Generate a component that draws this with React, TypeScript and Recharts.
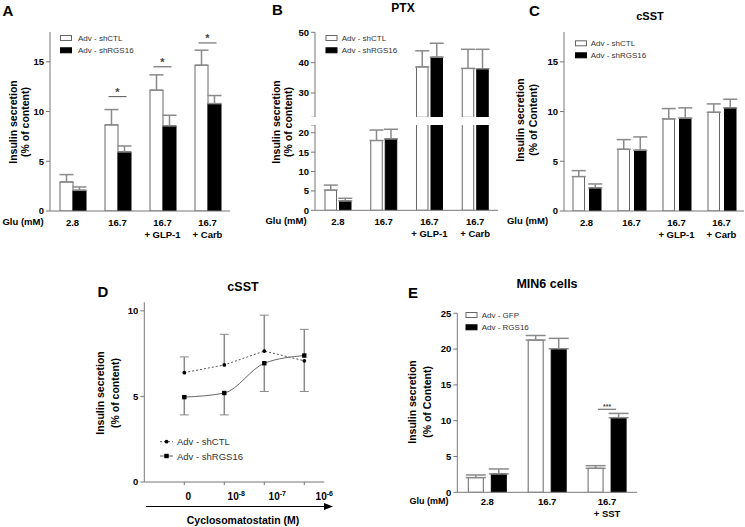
import React from "react";
import {
  BarChart,
  Bar,
  LineChart,
  Line,
  XAxis,
  YAxis,
  ErrorBar,
  ReferenceDot,
  Rectangle,
} from "recharts";

const FONT = "'Liberation Sans', Arial, Helvetica, sans-serif";
const AXIS = "#777";
const ERR = "#8a8a8a";

// glucose conditions used in A, B and C
const conditions = ["2.8", "16.7", "16.7 + GLP-1", "16.7 + Carb"];

// A - islets
const aShCtl = [2.92, 8.66, 12.15, 14.66];
const aShCtlSem = [0.74, 1.54, 1.54, 1.51];
const aShRgs = [2.08, 5.94, 8.56, 10.8];
const aShRgsSem = [0.34, 0.6, 1.07, 0.81];
const aStars = [null, 11.5, 14.5, 16.9];

// B - PTX
const bShCtl = [5.2, 18.0, 38.6, 38.1];
const bShCtlSem = [1.3, 2.7, 5.3, 6.3];
const bShRgs = [2.4, 18.4, 41.8, 38.0];
const bShRgsSem = [0.7, 2.5, 4.6, 6.4];

// C - cSST
const cShCtl = [3.46, 6.21, 9.26, 9.93];
const cShCtlSem = [0.6, 0.97, 1.04, 0.84];
const cShRgs = [2.32, 6.11, 9.33, 10.37];
const cShRgsSem = [0.4, 1.34, 1.04, 0.87];

// D - cyclosomatostatin dose response (0, 1e-8, 1e-7, 1e-6 M)
const doseSteps = [0, 1, 2, 3];
const doseExponents = [null, "-8", "-7", "-6"];
const dShCtl = [6.39, 6.84, 7.65, 7.08];
const dShCtlLow = [0, 0, 0, 1.79];
const dShCtlHigh = [0.92, 1.79, 2.1, 0];
const dShRgs = [4.96, 5.2, 6.94, 7.39];
const dShRgsLow = [1.04, 1.28, 1.65, 0];
const dShRgsHigh = [0, 0, 0, 1.53];

// E - MIN6 cells
const eConditions = ["2.8", "16.7", "16.7 + SST"];
const eGfp = [2.05, 21.26, 3.35];
const eGfpSem = [0.37, 0.64, 0.37];
const eRgs = [2.56, 20.05, 10.42];
const eRgsSem = [0.7, 1.45, 0.6];
const eStars = [null, null, 11.6];

const barRows = (cats: string[], v1: number[], e1: number[], v2: number[], e2: number[]) =>
  cats.map((c, i) => ({ c, v1: v1[i], e1: [0, e1[i]], v2: v2[i], e2: [0, e2[i]] }));

const rowsA = barRows(conditions, aShCtl, aShCtlSem, aShRgs, aShRgsSem);
const rowsB = barRows(conditions, bShCtl, bShCtlSem, bShRgs, bShRgsSem);
const rowsC = barRows(conditions, cShCtl, cShCtlSem, cShRgs, cShRgsSem);
const rowsE = barRows(eConditions, eGfp, eGfpSem, eRgs, eRgsSem);
const rowsD = doseSteps.map((x, i) => ({
  x,
  ctl: dShCtl[i],
  ctlErr: [dShCtlLow[i], dShCtlHigh[i]],
  ctlCap: dShCtl[i] + dShCtlHigh[i] - dShCtlLow[i],
  rgs: dShRgs[i],
  rgsErr: [dShRgsLow[i], dShRgsHigh[i]],
  rgsCap: dShRgs[i] + dShRgsHigh[i] - dShRgsLow[i],
}));

function CondTick(props: any) {
  const { x, y, payload, dy } = props;
  const [first, second] = String(payload.value).split(" + ");
  return (
    <text x={x} y={y} textAnchor="middle" fontSize={9.5} fontWeight="bold" fill="#000">
      <tspan x={x} dy={dy}>{first}</tspan>
      {second && <tspan x={x} dy={12}>+ {second}</tspan>}
    </text>
  );
}

function DoseTick(props: any) {
  const { x, y, payload } = props;
  const i = payload.value as number;
  const shift = [4, 12, 13, 20][i] ?? 0;
  const exp = doseExponents[i];
  return (
    <text x={x + shift} y={y + 15} textAnchor="middle" fontSize={10} fontWeight="bold" fill="#000">
      {exp == null ? "0" : (
        <>
          <tspan>10</tspan>
          <tspan dy={-4} fontSize={7}>{exp}</tspan>
        </>
      )}
    </text>
  );
}

const starShape = (label: string, size: number, lift: number) => (p: any) => (
  <g>
    <line x1={p.cx - 9} x2={p.cx + 9} y1={p.cy} y2={p.cy} stroke="#555" strokeWidth={1} />
    <text x={p.cx} y={p.cy - lift} textAnchor="middle" fontSize={size} fontWeight="bold" fill="#444">
      {label}
    </text>
  </g>
);

// bars lying completely under the visible floor of a broken axis are not drawn
const floorBar = (key: string, floor?: number) => (props: any) => {
  if (floor != null && props.payload && props.payload[key] < floor) return <g />;
  return <Rectangle {...props} />;
};

function BarPanel(p: any) {
  return (
    <BarChart
      width={p.width}
      height={p.height}
      data={p.rows}
      margin={p.margin}
      barSize={p.barSize}
      barGap={p.barGap}
    >
      <XAxis
        dataKey="c"
        hide={p.hideX}
        height={34}
        interval={0}
        axisLine={{ stroke: AXIS }}
        tickLine={false}
        tickSize={0}
        tick={<CondTick dy={p.tickDy} />}
      />
      <YAxis
        type="number"
        width={p.yWidth}
        domain={p.domain}
        ticks={p.ticks}
        allowDataOverflow
        interval={0}
        axisLine={{ stroke: AXIS }}
        tickLine={{ stroke: AXIS }}
        tickSize={4}
        tickMargin={2}
        tickFormatter={p.fmt}
        tick={{ fontSize: 9.5, fontWeight: "bold", fill: "#000" }}
      />
      <Bar dataKey="v1" fill="#fff" stroke="#666" shape={floorBar("v1", p.floor)} isAnimationActive={false}>
        <ErrorBar dataKey="e1" direction="y" width={p.cap} stroke={ERR} />
      </Bar>
      <Bar dataKey="v2" fill="#000" stroke="#000" shape={floorBar("v2", p.floor)} isAnimationActive={false}>
        <ErrorBar dataKey="e2" direction="y" width={p.cap} stroke={ERR} />
      </Bar>
      {p.stars &&
        p.stars.map((s: number | null, i: number) =>
          s == null ? null : (
            <ReferenceDot
              key={i}
              x={p.rows[i].c}
              y={s}
              ifOverflow="visible"
              shape={starShape(p.starLabel, p.starSize, p.starLift)}
            />
          )
        )}
    </BarChart>
  );
}

function YTitle({ x1, x2, y, second }: { x1: number; x2: number; y: number; second: string }) {
  return (
    <g fontSize={10.5} fontWeight="bold" fill="#000">
      <text transform={`translate(${x1},${y}) rotate(-90)`} textAnchor="middle" dominantBaseline="central">
        Insulin secretion
      </text>
      <text transform={`translate(${x2},${y}) rotate(-90)`} textAnchor="middle" dominantBaseline="central">
        {second}
      </text>
    </g>
  );
}

function BoxLegend({ x, y, tx, names, gap, size }: any) {
  return (
    <g>
      {names.map((n: string, i: number) => (
        <g key={n}>
          <rect
            x={x}
            y={y + i * gap - 2.5}
            width={11}
            height={5}
            fill={i === 0 ? "#fff" : "#000"}
            stroke={i === 0 ? "#666" : "#000"}
          />
          <text x={tx} y={y + i * gap} dominantBaseline="central" fontSize={size} fill="#333">
            {n}
          </text>
        </g>
      ))}
    </g>
  );
}

const circleDot = (p: any) => <circle key={`c${p.index}`} cx={p.cx} cy={p.cy} r={1.9} fill="#000" />;
const squareDot = (p: any) => (
  <rect key={`s${p.index}`} x={p.cx - 2.2} y={p.cy - 2.2} width={4.4} height={4.4} fill="#000" />
);
const capDot = (p: any) => (
  <line key={`k${p.index}`} x1={p.cx - 4.5} x2={p.cx + 4.5} y1={p.cy} y2={p.cy} stroke={ERR} />
);

const abs = (left: number, top: number): React.CSSProperties => ({ position: "absolute", left, top });

export default function App() {
  return (
    <div
      style={{
        position: "absolute",
        left: 0,
        top: 0,
        width: 745,
        height: 527,
        background: "#fff",
        fontFamily: FONT,
        overflow: "hidden",
      }}
    >
      <div style={abs(0, 0)}>
        <BarPanel
          rows={rowsA}
          width={240}
          height={245}
          margin={{ top: 32, right: 10, left: 0, bottom: 0 }}
          yWidth={50}
          domain={[0, 18]}
          ticks={[0, 5, 10, 15]}
          barSize={13}
          barGap={0}
          cap={7}
          tickDy={13}
          stars={aStars}
          starLabel="*"
          starSize={11}
          starLift={1}
        />
      </div>

      {/* B: broken axis, upper part 22-50, lower part 0-22 */}
      <div style={abs(240, 0)}>
        <BarPanel
          rows={rowsB}
          width={263}
          height={117.3}
          margin={{ top: 32.3, right: 5, left: 0, bottom: 0 }}
          yWidth={75}
          domain={[22, 50]}
          ticks={[22, 30, 40, 50]}
          fmt={(v: number) => (v === 22 ? "" : String(v))}
          hideX
          floor={22}
          barSize={11.5}
          barGap={3}
          cap={7}
        />
      </div>
      <div style={abs(240, 125)}>
        <BarPanel
          rows={rowsB}
          width={263}
          height={119.3}
          margin={{ top: 0, right: 5, left: 0, bottom: 0 }}
          yWidth={75}
          domain={[0, 22]}
          ticks={[0, 5, 10, 15, 20, 22]}
          fmt={(v: number) => (v === 22 ? "" : String(v))}
          barSize={11.5}
          barGap={3}
          cap={7}
          tickDy={13}
        />
      </div>

      <div style={abs(490, 0)}>
        <BarPanel
          rows={rowsC}
          width={255}
          height={245}
          margin={{ top: 32, right: 1, left: 0, bottom: 0 }}
          yWidth={74}
          domain={[0, 18]}
          ticks={[0, 5, 10, 15]}
          barSize={11.5}
          barGap={5}
          cap={7}
          tickDy={13}
        />
      </div>

      <div style={abs(100, 300)}>
        <LineChart
          width={250}
          height={215}
          data={rowsD}
          margin={{ top: 2.3, right: 25.7, left: 0, bottom: 15 }}
        >
          <XAxis
            type="number"
            dataKey="x"
            domain={[-1, 3.5]}
            ticks={doseSteps}
            interval={0}
            height={18}
            axisLine={{ stroke: AXIS }}
            tickLine={{ stroke: AXIS }}
            tickSize={3}
            tickMargin={0}
            tick={<DoseTick />}
          />
          <YAxis
            type="number"
            width={44.3}
            domain={[0, 10.5]}
            ticks={[0, 5, 10]}
            interval={0}
            axisLine={{ stroke: AXIS }}
            tickLine={{ stroke: AXIS }}
            tickSize={4}
            tickMargin={2}
            tick={{ fontSize: 9.5, fontWeight: "bold", fill: "#000" }}
          />
          <Line dataKey="ctlCap" stroke="none" dot={capDot} activeDot={false} isAnimationActive={false} />
          <Line dataKey="rgsCap" stroke="none" dot={capDot} activeDot={false} isAnimationActive={false} />
          <Line
            dataKey="ctl"
            type="linear"
            stroke="#555"
            strokeWidth={1}
            strokeDasharray="2 2"
            dot={circleDot}
            activeDot={false}
            isAnimationActive={false}
          >
            <ErrorBar dataKey="ctlErr" direction="y" width={0} stroke={ERR} />
          </Line>
          <Line
            dataKey="rgs"
            type="monotone"
            stroke="#666"
            strokeWidth={1}
            dot={squareDot}
            activeDot={false}
            isAnimationActive={false}
          >
            <ErrorBar dataKey="rgsErr" direction="y" width={0} stroke={ERR} />
          </Line>
        </LineChart>
      </div>

      <div style={abs(380, 300)}>
        <BarPanel
          rows={rowsE}
          width={262}
          height={226.3}
          margin={{ top: 13.3, right: 5, left: 0, bottom: 0 }}
          yWidth={77.3}
          domain={[0, 25]}
          ticks={[0, 5, 10, 15, 20, 25]}
          barSize={15}
          barGap={8}
          cap={10}
          tickDy={10.8}
          stars={eStars}
          starLabel="***"
          starSize={7}
          starLift={0}
        />
      </div>

      <svg
        width={745}
        height={527}
        style={{ position: "absolute", left: 0, top: 0, pointerEvents: "none" }}
        fontFamily={FONT}
      >
        {/* panel letters */}
        <g fontSize={15} fontWeight="bold" fill="#000" textAnchor="middle" dominantBaseline="central">
          <text x={8} y={10}>A</text>
          <text x={277.5} y={9}>B</text>
          <text x={534.5} y={10.5}>C</text>
          <text x={103} y={291}>D</text>
          <text x={413} y={292}>E</text>
        </g>

        {/* titles */}
        <g fontWeight="bold" fill="#000" textAnchor="middle" dominantBaseline="central">
          <text x={403} y={8} fontSize={12}>PTX</text>
          <text x={650} y={16} fontSize={11}>cSST</text>
          <text x={243} y={287} fontSize={12.5}>cSST</text>
          <text x={547} y={284} fontSize={12.5}>MIN6 cells</text>
        </g>

        <YTitle x1={13.3} x2={25} y={122} second="(% of content)" />
        <YTitle x1={276} x2={288} y={122} second="(% of content)" />
        <YTitle x1={520} x2={533} y={120} second="(% of Content)" />
        <YTitle x1={100} x2={115} y={393} second="(% of content)" />
        <YTitle x1={412} x2={427} y={402} second="(% of Content)" />

        {/* Glu labels */}
        <g fontSize={9.5} fontWeight="bold" fill="#000" textAnchor="middle" dominantBaseline="central">
          <text x={23} y={221}>Glu (mM)</text>
          <text x={286} y={220}>Glu (mM)</text>
          <text x={527.5} y={220}>Glu (mM)</text>
          <text x={429} y={501} fontSize={9}>Glu (mM)</text>
        </g>

        <BoxLegend x={60.5} y={38} tx={78} gap={12.3} size={8} names={["Adv - shCTL", "Adv - shRGS16"]} />
        <BoxLegend x={326} y={38} tx={341.7} gap={12.3} size={8} names={["Adv - shCTL", "Adv - shRGS16"]} />
        <BoxLegend x={575.5} y={43.3} tx={590.7} gap={12} size={8} names={["Adv - shCTL", "Adv - shRGS16"]} />
        <BoxLegend x={466} y={315} tx={481.7} gap={12.3} size={8} names={["Adv - GFP", "Adv - RGS16"]} />

        {/* D legend */}
        <g fontSize={9.5} fill="#333">
          <line x1={160} x2={173} y1={441.7} y2={441.7} stroke="#555" strokeDasharray="2 2" />
          <circle cx={166.5} cy={441.7} r={1.9} fill="#000" />
          <text x={177} y={441.7} dominantBaseline="central">Adv - shCTL</text>
          <line x1={160} x2={173} y1={456} y2={456} stroke="#666" />
          <rect x={164.3} y={453.8} width={4.4} height={4.4} fill="#000" />
          <text x={177} y={456} dominantBaseline="central">Adv - shRGS16</text>
        </g>

        {/* D concentration arrow */}
        <line x1={146} x2={326} y1={506.5} y2={506.5} stroke="#000" strokeWidth={1} />
        <polygon points="333,506.5 324,503 324,510" fill="#000" />
        <text x={243} y={520} fontSize={10.5} fontWeight="bold" textAnchor="middle" dominantBaseline="central">
          Cyclosomatostatin (M)
        </text>
      </svg>
    </div>
  );
}
